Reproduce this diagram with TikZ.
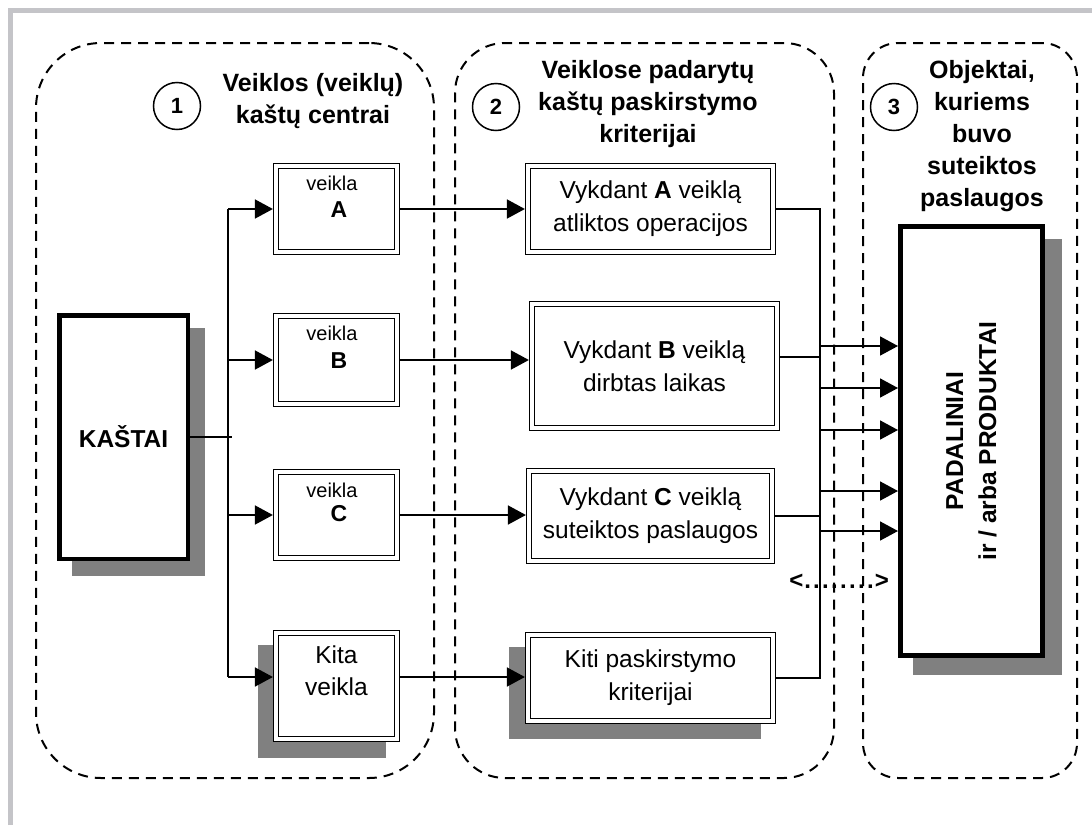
\documentclass[tikz,border=0pt]{standalone}
\usepackage{fontspec}
\setmainfont{Liberation Sans}
\usetikzlibrary{arrows.meta}
\newcommand\myfs[2]{\fontsize{#1}{#2}\selectfont}
\definecolor{framegray}{HTML}{C4C4C8}
\definecolor{shadowgray}{HTML}{808080}
\begin{document}
\begin{tikzpicture}[x=1pt,y=-1pt,
  region/.style={draw, dash pattern=on 10pt off 7pt, line width=2pt, inner sep=0pt, outer sep=0pt},
  dbox/.style={draw, double, double distance=3.4pt, line width=1.4pt, fill=white, inner sep=0pt, outer sep=3.1pt, align=center, font=\myfs{24.5}{33}},
  kbox/.style={draw, line width=4.5pt, fill=white, inner sep=0pt, outer sep=2.25pt},
  conn/.style={line width=1.7pt},
  arr/.style={line width=1.7pt, -{Triangle[length=18pt,width=19pt]}},
  numc/.style={circle, draw, line width=1.5pt, minimum size=47pt, inner sep=0pt, font=\myfs{22}{26}\bfseries},
  head/.style={align=center, font=\myfs{25}{32}\bfseries},
  vword/.style={font=\myfs{20}{24}},
  vletter/.style={font=\myfs{23}{27}\bfseries}
]
\useasboundingbox (0,0) rectangle (1092,825);
% frame
\draw[framegray, line width=5pt] (10,825) -- (10,10) -- (1092,10);
% regions
\node[region, rounded corners=65pt, minimum width=398pt, minimum height=735pt] (r1) at (235,410.5) {};
\node[region, rounded corners=50pt, minimum width=379pt, minimum height=735pt] (r2) at (644.5,410.5) {};
\node[region, rounded corners=35pt, minimum width=214pt, minimum height=735pt] (r3) at (970,410.5) {};
% headers
\node[numc] (c1) at (177,106) {1};
\node[numc] (c2) at (496,107) {2};
\node[numc] (c3) at (894,107) {3};
\node[head] (h1) at (313,101.5) {Veiklos (veiklų)\\kaštų centrai};
\node[head] (h2) at (648,104.5) {Veiklose padarytų\\kaštų paskirstymo\\kriterijai};
\node[head] (h3) at (982,136.5) {Objektai,\\kuriems\\buvo\\suteiktos\\paslaugos};
% shadows
\fill[shadowgray] (72,328) rectangle (205,576);
\fill[shadowgray] (258,645) rectangle (386,758);
\fill[shadowgray] (509,647) rectangle (761,739);
\fill[shadowgray] (913,239) rectangle (1062,675);
% KASTAI
\node[kbox, minimum width=128.5pt, minimum height=243.5pt, font=\myfs{24.5}{30}\bfseries] (kas) at (123.5,437) {KAŠTAI};
% veikla boxes
\node[dbox, minimum width=121pt, minimum height=86pt] (va) at (336.5,209) {};
\node[vword] (vat) at (332,183) {veikla};
\node[vletter] (val) at (339,210) {A};
\node[dbox, minimum width=121pt, minimum height=88pt] (vb) at (336.5,360) {};
\node[vword] (vbt) at (332,333) {veikla};
\node[vletter] (vbl) at (339,361) {B};
\node[dbox, minimum width=121pt, minimum height=86pt] (vc) at (336.5,515) {};
\node[vword] (vct) at (332,490) {veikla};
\node[vletter] (vcl) at (339,514) {C};
\node[dbox, minimum width=121pt, minimum height=106pt] (vk) at (336.5,686) {};
\node[align=center, font=\myfs{24.5}{32}] (vkt) at (336.5,671) {Kita\\veikla};
% criteria boxes
\node[dbox, minimum width=245pt, minimum height=86pt] (ca) at (650.5,209) {Vykdant \textbf{A} veiklą\\atliktos operacijos};
\node[dbox, minimum width=245pt, minimum height=124pt] (cb) at (654.5,366) {Vykdant \textbf{B} veiklą\\dirbtas laikas};
\node[dbox, minimum width=243pt, minimum height=90pt] (cc) at (650.5,516) {Vykdant \textbf{C} veiklą\\suteiktos paslaugos};
\node[dbox, minimum width=245pt, minimum height=86pt] (ck) at (650.5,678) {Kiti paskirstymo\\kriterijai};
% PADALINIAI
\node[kbox, line width=5pt, outer sep=2.5pt, minimum width=142pt, minimum height=429pt] (pad) at (971.5,441) {};
\node[rotate=90, align=center, font=\myfs{24.5}{33}\bfseries] (padt) at (971.5,441) {PADALINIAI\\ir / arba PRODUKTAI};
% connectors
\coordinate (bus) at (228,0);
\coordinate (col) at (820,0);
\coordinate (kend) at (232,437);
\draw[conn] (kas.east) -- (kend);
\draw[conn] (va.west -| bus) -- ([yshift=9pt]vk.west -| bus);
\draw[arr] (va.west -| bus) -- (va.west);
\draw[arr] (vb.west -| bus) -- (vb.west);
\draw[arr] (vc.west -| bus) -- (vc.west);
\draw[arr] ([yshift=9pt]vk.west -| bus) -- ([yshift=9pt]vk.west);
\draw[arr] (va.east) -- (va.east -| ca.west);
\draw[arr] (vb.east) -- (vb.east -| cb.west);
\draw[arr] (vc.east) -- (vc.east -| cc.west);
\draw[arr] ([yshift=9pt]vk.east) -- ([yshift=9pt]vk.east -| ck.west);
\draw[conn] (ca.east) -- (ca.east -| col) -- (ck.east -| col) -- (ck.east);
\draw[conn] ([yshift=9pt]cb.east) -- ([yshift=9pt]cb.east -| col);
\draw[conn] (cc.east) -- (cc.east -| col);
\foreach \yy in {346,388,430,491,531}
  \draw[arr] (820,\yy) -- (pad.west |- 820,\yy);
\node[font=\myfs{24}{28}\bfseries] (dots) at (839,581) {<\kern1pt.\kern2.3pt.\kern2.3pt.\kern2.3pt.\kern2.3pt.\kern2.3pt.\kern2.3pt.\kern2.3pt.\kern1pt>};
\end{tikzpicture}
\end{document}
